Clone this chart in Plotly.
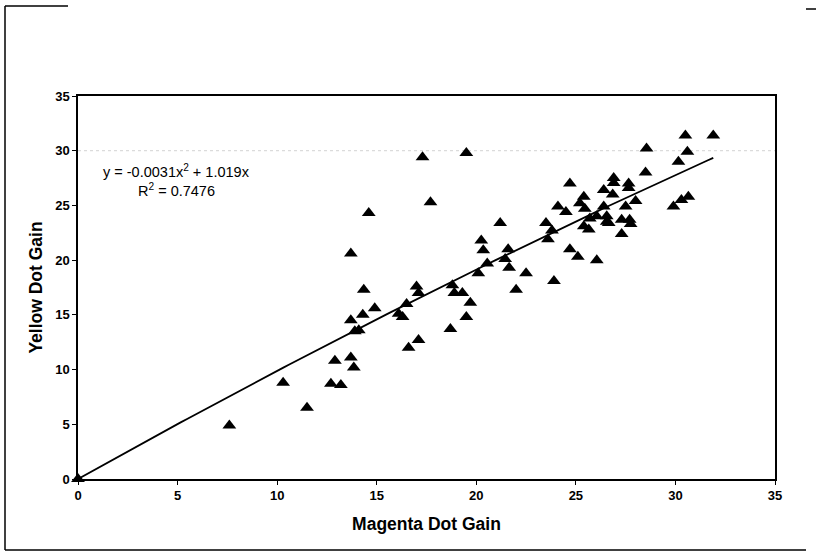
import plotly.graph_objects as go
import numpy as np

# Data (Magenta dot gain vs Yellow dot gain)
magenta = [0.0, 7.6, 10.3, 11.5, 12.7, 12.9, 13.2, 13.7, 13.7, 13.7, 13.85, 13.9, 14.1,
           14.35, 14.3, 14.6, 14.9, 16.1, 16.3, 16.5, 16.6, 17.1, 17.0, 17.1, 17.3, 17.7,
           18.7, 18.8, 18.9, 19.3, 19.5, 19.5, 19.7, 20.1, 20.25, 20.35, 20.55, 21.2, 21.45,
           21.6, 21.65, 22.0, 22.5, 23.5, 23.6, 23.8, 23.9, 24.1, 24.5, 24.7, 24.7, 25.1,
           25.2, 25.4, 25.45, 25.4, 25.65, 25.7, 26.05, 26.05, 26.4, 26.55, 26.55, 26.4,
           26.85, 26.9, 26.9, 26.65, 27.3, 27.5, 27.65, 27.65, 27.7, 27.75, 27.3, 28.0,
           28.5, 28.55, 29.9, 30.15, 30.3, 30.6, 30.65, 30.5, 31.9]
yellow = [0.0, 4.9, 8.8, 6.5, 8.7, 10.8, 8.6, 20.6, 14.5, 11.1, 10.2, 13.5, 13.6,
          17.3, 15.0, 24.3, 15.6, 15.1, 14.8, 16.0, 12.0, 12.7, 17.6, 17.0, 29.4, 25.3,
          13.7, 17.7, 17.0, 17.0, 14.8, 29.8, 16.1, 18.8, 21.8, 20.9, 19.7, 23.4, 20.1,
          21.0, 19.3, 17.3, 18.8, 23.4, 21.9, 22.7, 18.1, 24.9, 24.4, 27.0, 21.0, 20.3,
          25.2, 25.8, 24.7, 23.1, 22.8, 23.8, 24.0, 20.0, 26.4, 23.5, 24.0, 24.9,
          26.0, 27.5, 27.05, 23.4, 23.7, 24.9, 27.0, 26.6, 23.7, 23.3, 22.4, 25.4,
          28.0, 30.2, 24.9, 29.0, 25.5, 29.9, 25.8, 31.4, 31.4]

# Trendline coefficients as printed on the chart
coef_a = -0.0031
coef_b = 1.019
eq_text = "y = -0.0031x<sup>2</sup> + 1.019x"
r2_text = "R<sup>2</sup> = 0.7476"

x_ticks = [0, 5, 10, 15, 20, 25, 30, 35]
y_ticks = [0, 5, 10, 15, 20, 25, 30, 35]

xt = np.linspace(0, max(magenta), 100)
yt = coef_a * xt**2 + coef_b * xt

FONT = "Liberation Sans, Arial, sans-serif"

fig = go.Figure()
fig.add_trace(go.Scatter(x=xt, y=yt, mode="lines",
                         line=dict(color="black", width=1.8),
                         hoverinfo="skip", showlegend=False))
fig.add_trace(go.Scatter(x=magenta, y=yellow, mode="markers",
                         marker=dict(symbol="triangle-up", size=12, color="black"),
                         cliponaxis=False, showlegend=False))

# faint dotted gridline at 30 (as in the scan)
fig.add_shape(type="line", xref="x", yref="y", x0=0, x1=35, y0=30, y1=30,
              line=dict(color="#d2d2d2", width=1, dash="dot"), layer="below")

tick_font = dict(family=FONT, size=13, color="black", weight="bold")
title_font = dict(family=FONT, size=17.5, color="black", weight="bold")
fig.update_xaxes(range=[0, 35], tickvals=x_ticks,
                 ticktext=["<b>%d</b>" % v for v in x_ticks],
                 ticks="outside", ticklen=4,
                 tickcolor="black", showline=True, linecolor="black", linewidth=1.5,
                 mirror=True, showgrid=False, zeroline=False,
                 tickfont=tick_font,
                 title=dict(text="Magenta Dot Gain", standoff=15, font=title_font))
fig.update_yaxes(range=[0, 35], tickvals=y_ticks,
                 ticktext=["<b>%d</b>" % v for v in y_ticks],
                 ticks="outside", ticklen=4,
                 tickcolor="black", showline=True, linecolor="black", linewidth=1.5,
                 mirror=True, showgrid=False, zeroline=False,
                 tickfont=tick_font,
                 title=dict(text="Yellow Dot Gain", standoff=8, font=title_font))

def px(xp):
    return (xp - 78) / 697
def py(yp):
    return (479 - yp) / 383

fig.add_annotation(x=px(176), y=py(171), xref="paper", yref="paper",
                   xanchor="center", yanchor="middle",
                   text=eq_text, showarrow=False,
                   font=dict(family=FONT, size=14.5, color="black"))
fig.add_annotation(x=px(176), y=py(190), xref="paper", yref="paper",
                   xanchor="center", yanchor="middle",
                   text=r2_text, showarrow=False,
                   font=dict(family=FONT, size=14.5, color="black"))

# outer (scanned) frame fragments
frame = dict(color="black", width=1.5)
fig.add_shape(type="line", xref="paper", yref="paper", x0=px(5), x1=px(5), y0=py(6), y1=py(550), line=frame)
fig.add_shape(type="line", xref="paper", yref="paper", x0=px(5), x1=px(68), y0=py(6), y1=py(6), line=frame)
fig.add_shape(type="line", xref="paper", yref="paper", x0=px(5), x1=px(806), y0=py(550), y1=py(550), line=frame)
fig.add_shape(type="line", xref="paper", yref="paper", x0=px(806), x1=px(816), y0=py(9), y1=py(9), line=frame)

fig.update_layout(width=818, height=556,
                  margin=dict(l=78, r=43, t=96, b=77),
                  paper_bgcolor="white", plot_bgcolor="white",
                  font=dict(family=FONT, color="black"))

fig.write_html("out.html", config={"displayModeBar": False},
               post_script="document.body.style.margin='0';")
